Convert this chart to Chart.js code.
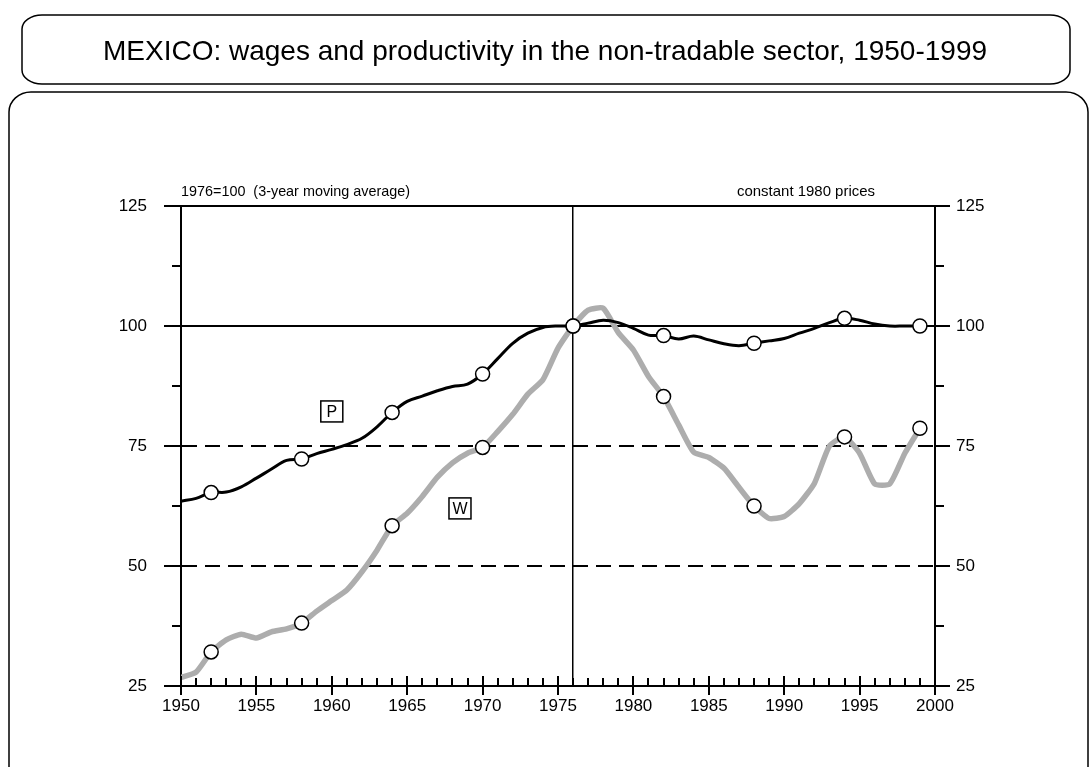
<!DOCTYPE html>
<html>
<head>
<meta charset="utf-8">
<title>Mexico wages and productivity</title>
<script src="https://cdn.jsdelivr.net/npm/chart.js@4/dist/chart.umd.min.js"></script>
<style>
  body { margin: 0; background: #fff; }
  canvas { display: block; }
</style>
</head>
<body>
<canvas id="chart" width="1091" height="767"></canvas>
<script>
// yearly index values, 1976 = 100, 3-year moving average
var years = [];
for (var yr = 1950; yr <= 1999; yr++) years.push(yr);

var productivity = [
  63.5, 64.1, 65.3, 65.4, 66.5, 68.3, 70.2, 72.0, 72.3, 73.4,
  74.3, 75.3, 76.6, 79.0, 82.0, 84.3, 85.4, 86.5, 87.4, 87.9,
  90.0, 93.2, 96.4, 98.5, 99.7, 100.0, 100.0, 100.6, 101.2, 100.7,
  99.5, 98.1, 98.0, 97.3, 97.9, 97.1, 96.3, 95.9, 96.4, 96.9,
  97.4, 98.5, 99.5, 100.7, 101.6, 101.2, 100.4, 100.0, 100.0, 100.0
];
var wages = [
  26.8, 27.9, 32.1, 34.6, 35.8, 35.0, 36.3, 36.9, 38.1, 40.6,
  42.8, 45.0, 48.8, 53.3, 58.4, 61.0, 64.5, 68.5, 71.5, 73.5,
  74.7, 78.0, 81.6, 85.8, 88.8, 95.4, 100.0, 103.3, 103.7, 98.6,
  95.0, 89.5, 85.3, 79.4, 73.7, 72.6, 70.4, 66.4, 62.5, 59.9,
  60.3, 63.0, 67.2, 75.0, 76.9, 73.5, 67.1, 67.1, 73.5, 78.7
];
var markerYears = [1952, 1958, 1964, 1970, 1976, 1982, 1988, 1994, 1999];
var yTicks = [25, 50, 75, 100, 125];
var xTicks = [1950, 1955, 1960, 1965, 1970, 1975, 1980, 1985, 1990, 1995, 2000];
var baseYear = 1976;

var title = "MEXICO: wages and productivity in the non-tradable sector, 1950-1999";
var noteLeft = "1976=100  (3-year moving average)";
var noteRight = "constant 1980 prices";
var seriesTags = [
  { text: "P", year: 1960, value: 82.2 },
  { text: "W", year: 1968.5, value: 62.0 }
];

var FONT = '"Liberation Sans", Arial, sans-serif';

function toPoints(values) {
  return values.map(function (v, i) { return { x: years[i], y: v }; });
}

function markerRadius(ctx) {
  var yrv = years[ctx.dataIndex];
  return markerYears.indexOf(yrv) >= 0 ? 7 : 0;
}

// rounded box with elliptical corners
function roundBox(ctx, x, y, w, h, rx, ry) {
  ctx.beginPath();
  ctx.moveTo(x + rx, y);
  ctx.lineTo(x + w - rx, y);
  ctx.ellipse(x + w - rx, y + ry, rx, ry, 0, -Math.PI / 2, 0);
  ctx.lineTo(x + w, y + h - ry);
  ctx.ellipse(x + w - rx, y + h - ry, rx, ry, 0, 0, Math.PI / 2);
  ctx.lineTo(x + rx, y + h);
  ctx.ellipse(x + rx, y + h - ry, rx, ry, 0, Math.PI / 2, Math.PI);
  ctx.lineTo(x, y + ry);
  ctx.ellipse(x + rx, y + ry, rx, ry, 0, Math.PI, Math.PI * 1.5);
  ctx.closePath();
  ctx.stroke();
}

var framePlugin = {
  id: 'frame',
  beforeDraw: function (chart) {
    var ctx = chart.ctx;
    var area = chart.chartArea;
    ctx.save();
    ctx.fillStyle = '#fff';
    ctx.fillRect(0, 0, chart.width, chart.height);
    ctx.strokeStyle = '#000';
    ctx.lineWidth = 1.5;
    roundBox(ctx, 22, 15, 1048, 69, 20, 14);
    roundBox(ctx, 9, 92, 1079, 720, 22, 20);

    ctx.fillStyle = '#000';
    ctx.textBaseline = 'middle';
    ctx.textAlign = 'center';
    ctx.font = '28px ' + FONT;
    ctx.fillText(title, 545, 52, 890);

    ctx.font = '15px ' + FONT;
    ctx.textAlign = 'left';
    ctx.fillText(noteLeft, area.left, 192, 229);
    ctx.fillText(noteRight, 737, 192, 138);
    ctx.restore();
  },
  afterDraw: function (chart) {
    var ctx = chart.ctx;
    var area = chart.chartArea;
    var xs = chart.scales.x, ys = chart.scales.y;
    ctx.save();
    ctx.strokeStyle = '#000';
    ctx.lineWidth = 2;
    ctx.beginPath();
    // value axis tick marks, outward on both sides
    for (var v = 25; v <= 125; v += 12.5) {
      var py = Math.round(ys.getPixelForValue(v));
      var major = yTicks.indexOf(v) >= 0;
      ctx.moveTo(area.left - (major ? 17 : 9), py);
      ctx.lineTo(area.left, py);
      ctx.moveTo(area.right, py);
      ctx.lineTo(area.right + (major ? 15 : 9), py);
    }
    // year tick marks, majors cross the axis
    for (var yr = 1950; yr <= 2000; yr++) {
      var px = Math.round(xs.getPixelForValue(yr));
      var maj = xTicks.indexOf(yr) >= 0;
      ctx.moveTo(px, area.bottom - (maj ? 10 : 8));
      ctx.lineTo(px, area.bottom + (maj ? 9 : 0));
    }
    ctx.stroke();

    // series tags
    ctx.lineWidth = 1.5;
    ctx.font = '16px ' + FONT;
    ctx.textAlign = 'center';
    ctx.textBaseline = 'middle';
    seriesTags.forEach(function (t) {
      var cx = xs.getPixelForValue(t.year);
      var cy = ys.getPixelForValue(t.value);
      ctx.fillStyle = '#fff';
      ctx.fillRect(cx - 11, cy - 10.5, 22, 21);
      ctx.strokeRect(cx - 11, cy - 10.5, 22, 21);
      ctx.fillStyle = '#000';
      ctx.fillText(t.text, cx, cy + 1);
    });
    ctx.restore();
  }
};

function isMajor(v) { return yTicks.indexOf(v) >= 0; }

new Chart(document.getElementById('chart'), {
  type: 'line',
  data: {
    datasets: [
      {
        label: 'P',
        data: toPoints(productivity),
        borderColor: '#000',
        borderWidth: 3,
        tension: 0.35,
        pointRadius: markerRadius,
        pointBackgroundColor: '#fff',
        pointBorderColor: '#000',
        pointBorderWidth: 1.5
      },
      {
        label: 'W',
        data: toPoints(wages),
        borderColor: '#adadad',
        borderWidth: 5.5,
        tension: 0.18,
        pointRadius: markerRadius,
        pointBackgroundColor: '#fff',
        pointBorderColor: '#000',
        pointBorderWidth: 1.5
      }
    ]
  },
  options: {
    responsive: false,
    animation: false,
    layout: { padding: { top: 206, left: 0, right: 0, bottom: 0 } },
    plugins: {
      legend: { display: false },
      tooltip: { enabled: false }
    },
    scales: {
      x: {
        type: 'linear',
        min: 1950,
        max: 2000,
        afterFit: function (s) { s.height = 81; },
        ticks: {
          stepSize: 1,
          autoSkip: false,
          maxRotation: 0,
          padding: 10,
          color: '#000',
          font: { family: FONT, size: 17 },
          callback: function (v) { return xTicks.indexOf(v) >= 0 ? String(v) : ''; }
        },
        grid: {
          drawTicks: false,
          lineWidth: 1.5,
          color: function (c) { return c.tick && c.tick.value === baseYear ? '#000' : 'rgba(0,0,0,0)'; }
        },
        border: { display: true, color: '#000', width: 2 }
      },
      y: {
        position: 'left',
        min: 25,
        max: 125,
        afterFit: function (s) { s.width = 181; },
        ticks: {
          stepSize: 12.5,
          padding: 34,
          color: '#000',
          font: { family: FONT, size: 17 },
          callback: function (v) { return isMajor(v) ? String(v) : ''; }
        },
        grid: {
          drawTicks: false,
          lineWidth: 2,
          color: function (c) { return c.tick && isMajor(c.tick.value) ? '#000' : 'rgba(0,0,0,0)'; }
        },
        border: {
          display: true,
          color: '#000',
          width: 2,
          dash: function (c) {
            return c.tick && (c.tick.value === 75 || c.tick.value === 50) ? [15, 8] : [];
          }
        }
      },
      y2: {
        position: 'right',
        min: 25,
        max: 125,
        afterFit: function (s) { s.width = 156; },
        ticks: {
          stepSize: 12.5,
          padding: 21,
          color: '#000',
          font: { family: FONT, size: 17 },
          callback: function (v) { return isMajor(v) ? String(v) : ''; }
        },
        grid: { drawOnChartArea: false, drawTicks: false },
        border: { display: true, color: '#000', width: 2 }
      }
    }
  },
  plugins: [framePlugin]
});
</script>
</body>
</html>
